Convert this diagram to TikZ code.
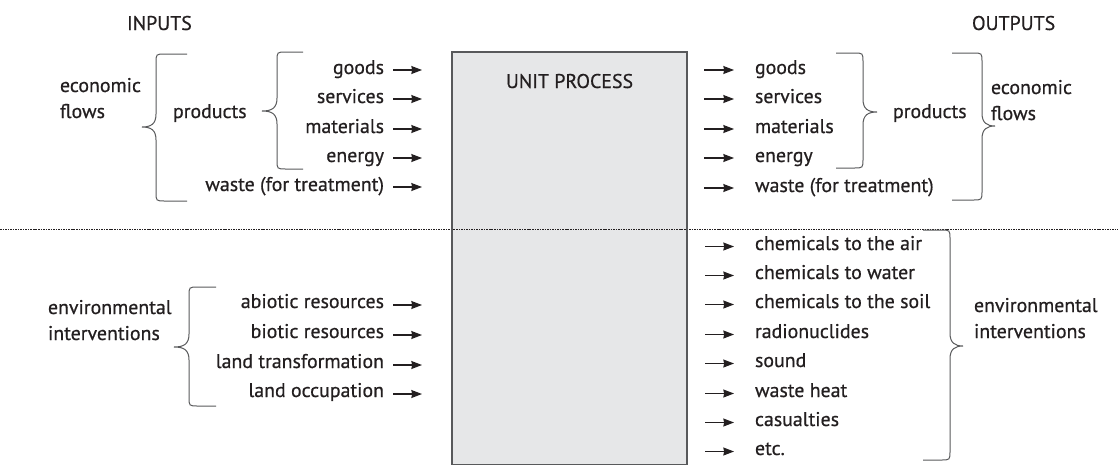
\documentclass[tikz,border=0pt]{standalone}
\usepackage{fontspec}
\setmainfont{PT Sans}[FakeBold=0.6]
\usetikzlibrary{arrows.meta,calc}
\definecolor{ink}{HTML}{231F20}
\definecolor{linegray}{HTML}{58595B}
\definecolor{boxfill}{HTML}{E6E7E8}
% curly brace with its tip on the left: stub end x, spine x, tip x, top y, tip y, bottom y
\newcommand{\leftcurly}[6]{%
  \draw[brace] (#1,#4) -- (#2+9,#4) .. controls (#2,#4) .. (#2,#4+9)
    -- (#2,#5-13) .. controls (#2,#5-3) and (#2-5,#5) .. (#3,#5)
    .. controls (#2-5,#5) and (#2,#5+3) .. (#2,#5+13)
    -- (#2,#6-9) .. controls (#2,#6) .. (#2+9,#6) -- (#1,#6);}
% curly brace with its tip on the right
\newcommand{\rightcurly}[6]{%
  \draw[brace] (#1,#4) -- (#2-9,#4) .. controls (#2,#4) .. (#2,#4+9)
    -- (#2,#5-13) .. controls (#2,#5-3) and (#2+5,#5) .. (#3,#5)
    .. controls (#2+5,#5) and (#2,#5+3) .. (#2,#5+13)
    -- (#2,#6-9) .. controls (#2,#6) .. (#2-9,#6) -- (#1,#6);}
\begin{document}
\begin{tikzpicture}[x=0.75pt,y=-0.75pt,
  every node/.style={inner sep=0pt,outer sep=0pt,text=ink,font=\fontsize{14.9}{19.5}\selectfont},
  lbl/.style={anchor=base east},
  rlbl/.style={anchor=base west},
  two/.style={align=left,anchor=base west},
  flow/.style={draw=ink,line width=0.8pt,-{Stealth[length=8pt,width=6pt,inset=0.6pt]}},
  brace/.style={draw=linegray,line width=0.75pt},
  divider/.style={draw=ink,line width=0.65pt,dash pattern=on 1.2pt off 0.7pt},
  processbox/.style={draw=linegray,fill=boxfill,line width=0.8pt}]
\useasboundingbox (0,0) rectangle (1118,465);

% unit process box and the divider line
\draw[processbox] (452,52) rectangle (687,464.5);
\coordinate (divL) at (0,229);
\coordinate (divR) at (1118,229);
\draw[divider] (divL) -- (divR);
\draw[draw=linegray,line width=0.8pt] (452,52) -- (452,464.5) (687,52) -- (687,464.5);
\node[anchor=base] (up) at (569.5,88) {UNIT PROCESS};

% headings
\node[anchor=base west] (inputs) at (127,30) {INPUTS};
\node[anchor=base west] (outputs) at (972,30) {OUTPUTS};

% economic inputs
\foreach \name/\txt/\yb in {ig/goods/74, is/services/103, im/materials/133, ie/energy/162, iw/waste (for treatment)/191}{
  \node[lbl] (\name) at (384,\yb) {\txt};
  \draw[flow] ($(\name.base east)+(9,-4)$) -- ++(29,0);
}
\node[anchor=base west] (iprod) at (173,118) {products};
\node[two] (iecon) at (60,118) {economic\\flows};
\leftcurly{303}{277}{262}{52}{111}{169}
\leftcurly{187}{156}{142}{54}{127}{201}

% environmental inputs
\foreach \name/\txt/\yb in {ia/abiotic resources/308, ib/biotic resources/338, it/land transformation/368, io/land occupation/397}{
  \node[lbl] (\name) at (384,\yb) {\txt};
  \draw[flow] ($(\name.base east)+(9,-3)$) -- ++(29,0);
}
\node[two] (ienv) at (48,340) {environmental\\interventions};
\leftcurly{216}{189}{174}{287}{347}{406}

% economic outputs
\foreach \name/\txt/\yb in {og/goods/74, os/services/103, om/materials/133, oe/energy/162, ow/waste (for treatment)/192}{
  \node[rlbl] (\name) at (755,\yb) {\txt};
  \draw[flow] ($(\name.base west)+(-51,-4)$) -- ++(30,0);
}
\node[anchor=base west] (oprod) at (893,118) {products};
\node[two] (oecon) at (991,120) {economic\\flows};
\rightcurly{836}{863}{877}{53}{112}{168}
\rightcurly{952}{982}{995}{53}{126}{200}

% environmental outputs
\foreach \name/\txt/\yb in {oa/chemicals to the air/250, ow2/chemicals to water/279, os2/chemicals to the soil/308, or/radionuclides/338, osd/sound/367, oh/waste heat/397, oc/casualties/426, oetc/etc./455}{
  \node[rlbl] (\name) at (755,\yb) {\txt};
  \draw[flow] ($(\name.base west)+(-50,-3.5)$) -- ++(29,0);
}
\node[two] (oenv) at (974,338) {environmental\\interventions};
\rightcurly{923}{950}{963}{230}{346}{460}
\end{tikzpicture}
\end{document}
